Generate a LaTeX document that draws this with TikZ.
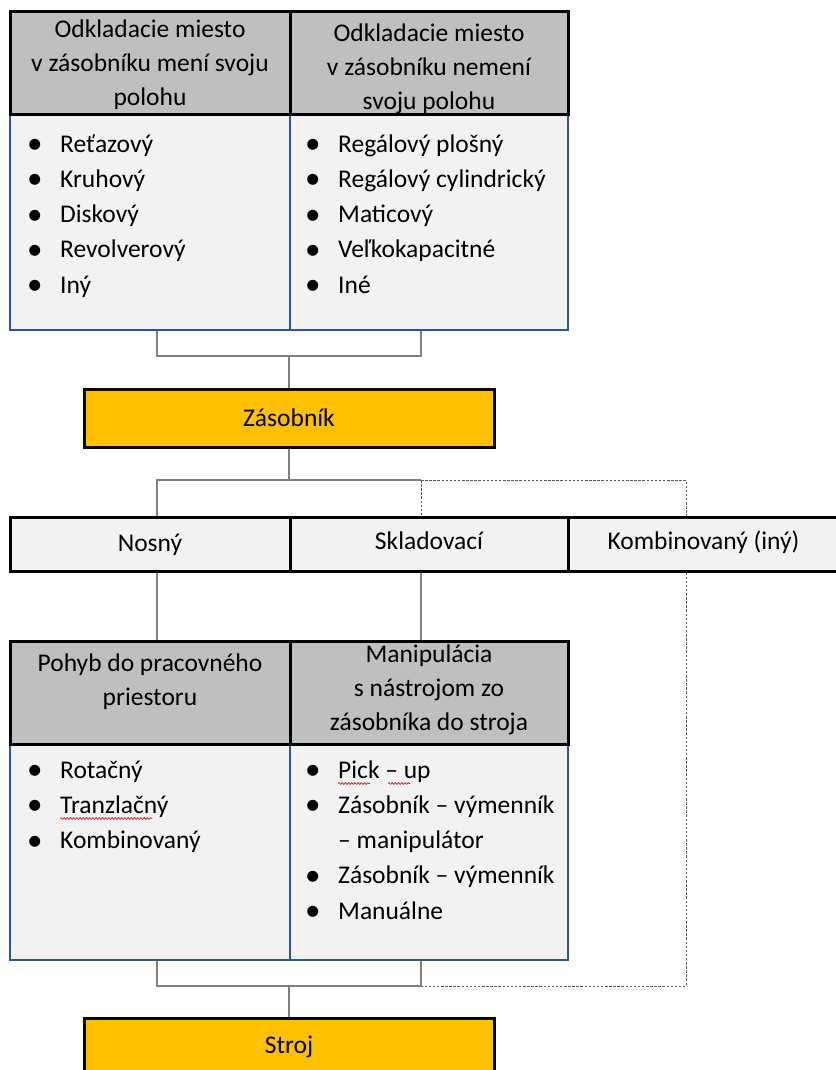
\documentclass[tikz,border=0pt]{standalone}
\usepackage{fontspec}
\setmainfont{Carlito}
\usetikzlibrary{positioning,decorations.pathmorphing}

\definecolor{headgray}{HTML}{BFBFBF}
\definecolor{bodygray}{HTML}{F2F2F2}
\definecolor{frameblue}{HTML}{2F5597}
\definecolor{stackgold}{HTML}{FFC000}
\definecolor{linkgray}{HTML}{7F7F7F}
\definecolor{dashgray}{HTML}{595959}
\definecolor{spellred}{HTML}{E00000}

\newcommand{\itm}{\makebox[33pt][l]{\raisebox{-1.6pt}{\fontsize{31}{31}\selectfont•}}}

\begin{document}
\begin{tikzpicture}[x=1pt, y=-1pt, font=\fontsize{25.5}{34}\selectfont]
    \useasboundingbox (0,0) rectangle (835,1070);
    \begin{scope}[head/.style={draw=black, fill=headgray, line width=3pt, minimum height=103pt, inner sep=0pt},
                  body/.style={draw=frameblue, fill=bodygray, line width=2.2pt, minimum height=215pt, inner sep=0pt},
                  bar/.style={draw=black, line width=3pt, inner sep=0pt},
                  row/.style={bar, fill=bodygray, minimum height=54pt, text height=17pt, text depth=6pt},
                  txt/.style={align=center, inner sep=0pt},
                  lst/.style={anchor=base west, inner sep=0pt, font=\fontsize{25.5}{35.3}\selectfont},
                  link/.style={draw=linkgray, line width=1.2pt},
                  linkdash/.style={draw=dashgray, line width=0.9pt, dash pattern=on 2.5pt off 1.6pt},
                  spell/.style={draw=spellred, line width=0.6pt, decorate, decoration={snake, segment length=3.2pt, amplitude=0.9pt}}]
        % upper table
        \node[body, minimum width=280pt] (bd1) at (150, 222.5) {};
        \node[body, minimum width=278pt] (bd2) at (429, 222.5) {};
        \node[head, minimum width=280pt] (hd1) at (150, 63.5) {};
        \node[head, minimum width=278pt] (hd2) at (429, 63.5) {};
        \node[txt, below=9pt of hd1.north] (hd1t) {Odkladacie miesto\\v zásobníku mení svoju\\polohu};
        \node[txt, below=13pt of hd2.north] (hd2t) {Odkladacie miesto\\v zásobníku nemení\\svoju polohu};
        \node[lst] (ls1) at (27, 152) {\begin{tabular}[t]{@{}l@{}}
            \itm Reťazový\\ \itm Kruhový\\ \itm Diskový\\ \itm Revolverový\\ \itm Iný
        \end{tabular}};
        \node[lst] (ls2) at (305, 152) {\begin{tabular}[t]{@{}l@{}}
            \itm Regálový plošný\\ \itm Regálový cylindrický\\ \itm Maticový\\ \itm Veľkokapacitné\\ \itm Iné
        \end{tabular}};
        % magazine and its kinds
        \node[bar, fill=stackgold, minimum width=410pt, minimum height=58pt] (zas) at (289, 418) {Zásobník};
        \node[row, minimum width=280pt] (nos) at (150, 544) {\raisebox{-2pt}{Nosný}};
        \node[row, minimum width=278pt] (skl) at (429, 544) {Skladovací};
        \node[row, minimum width=277pt] (kom) at (706.5, 544) {\hspace*{-6pt}Kombinovaný (iný)};
        % lower table
        \node[body, minimum width=280pt] (bd3) at (150, 852.5) {};
        \node[body, minimum width=278pt] (bd4) at (429, 852.5) {};
        \node[head, minimum width=280pt] (hd3) at (150, 693) {};
        \node[head, minimum width=278pt] (hd4) at (429, 693) {};
        \node[txt, below=14pt of hd3.north] (hd3t) {Pohyb do pracovného\\priestoru};
        \node[txt, below=5pt of hd4.north] (hd4t) {Manipulácia\\s nástrojom zo\\zásobníka do stroja};
        \node[lst] (ls3) at (27, 778) {\begin{tabular}[t]{@{}l@{}}
            \itm Rotačný\\ \itm Tranzlačný\\ \itm Kombinovaný
        \end{tabular}};
        \node[lst] (ls4) at (305, 778) {\begin{tabular}[t]{@{}l@{}}
            \itm Pick – up\\ \itm Zásobník – výmenník\\ \makebox[33pt]{}– manipulátor\\ \itm Zásobník – výmenník\\ \itm Manuálne
        \end{tabular}};
        \node[bar, fill=stackgold, minimum width=410pt, minimum height=60pt] (str) at (289, 1048) {\raisebox{6pt}{Stroj}};
        % spelling marks
        \path[spell] ([shift={(33,40.5)}]ls3.base west) -- ++(92,0);
        \path[spell] ([shift={(33,5.5)}]ls4.base west) -- ++(32,0);
        \path[spell] ([shift={(83,5.5)}]ls4.base west) -- ++(22,0);
        % junctions
        \coordinate (a1) at (157, 356);
        \coordinate (a2) at (289, 356);
        \coordinate (a3) at (421, 356);
        \coordinate (b1) at (157, 480);
        \coordinate (b2) at (289, 480);
        \coordinate (b3) at (421, 480);
        \coordinate (b4) at (686, 480);
        \coordinate (c1) at (157, 986);
        \coordinate (c2) at (289, 986);
        \coordinate (c3) at (421, 986);
        \coordinate (c4) at (686, 986);
        \path[link] (a1 |- bd1.south) -- (a1) -- (a3) -- (a3 |- bd2.south);
        \path[link] (a2) -- (zas.north);
        \path[link] (zas.south) -- (b2);
        \path[link] (b1 |- nos.north) -- (b1) -- (b3);
        \path[linkdash] (b3) -- (b4) -- (b4 |- kom.north);
        \path[linkdash] (b3) -- (b3 |- skl.north);
        \path[link] (nos.south -| b1) -- (b1 |- hd3.north);
        \path[link] (skl.south -| b3) -- (b3 |- hd4.north);
        \path[linkdash] (kom.south -| c4) -- (c4) -- (c3);
        \path[link] (c1 |- bd3.south) -- (c1) -- (c3) -- (c3 |- bd4.south);
        \path[link] (c2) -- (str.north);
    \end{scope}
\end{tikzpicture}
\end{document}
